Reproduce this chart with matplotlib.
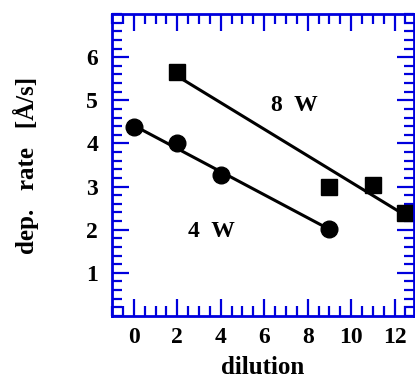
import numpy as np
import matplotlib
matplotlib.use("Agg")
import matplotlib.pyplot as plt
from matplotlib.ticker import MultipleLocator

# data
dil_4w = [0, 2, 4, 9]
rate_4w = [4.37, 4.0, 3.26, 2.02]
dil_8w = [2, 9, 11, 12.5]
rate_8w = [5.66, 3.0, 3.04, 2.39]

xticks = [0, 2, 4, 6, 8, 10, 12]
yticks = [1, 2, 3, 4, 5, 6]

blue = "#0000dd"
fs = 17

plt.rcParams['font.family'] = ['Liberation Serif', 'DejaVu Serif']
plt.rcParams['font.weight'] = 'bold'

fig = plt.figure(figsize=(4.15, 3.78), dpi=100)
ax = fig.add_axes([0.270, 0.164, 0.728, 0.799])

# linear fits drawn over each series' range
for x, y in [(dil_4w, rate_4w), (dil_8w, rate_8w)]:
    k, b = np.polyfit(x, y, 1)
    xx = np.array([min(x), max(x)])
    ax.plot(xx, k * xx + b, color="black", lw=2.2, zorder=2)

ax.plot(dil_4w, rate_4w, "o", color="black", ms=12, zorder=2.4, clip_on=False)
ax.plot(dil_8w, rate_8w, "s", color="black", ms=11.5, zorder=2.4, clip_on=False)

ax.text(7.4, 4.89, "8  W", fontsize=fs, fontweight="bold", ha="center", va="center")
ax.text(3.55, 1.95, "4  W", fontsize=fs, fontweight="bold", ha="center", va="center")

ax.set_xlim(-1, 12.9)
ax.set_ylim(0, 7)
ax.set_xticks(xticks)
ax.set_yticks(yticks)
ax.xaxis.set_minor_locator(MultipleLocator(0.5))
ax.yaxis.set_minor_locator(MultipleLocator(0.2))

for s in ax.spines.values():
    s.set_color(blue)
    s.set_linewidth(2.0)
ax.tick_params(which="both", direction="in", color=blue, width=1.6,
               top=True, right=True, labelsize=fs)
ax.tick_params(which="major", length=12.5)
ax.tick_params(which="minor", length=7)
ax.tick_params(axis="x", which="major", pad=8)
ax.tick_params(axis="y", which="major", pad=10)
for lab in ax.get_xticklabels() + ax.get_yticklabels():
    lab.set_fontweight("bold")

ax.set_xlabel("dilution", fontsize=fs + 1, fontweight="bold", labelpad=6)
ax.set_ylabel("dep.   rate   [Å/s]", fontsize=fs + 1, fontweight="bold", labelpad=34)

fig.savefig("out.png", dpi=100)
